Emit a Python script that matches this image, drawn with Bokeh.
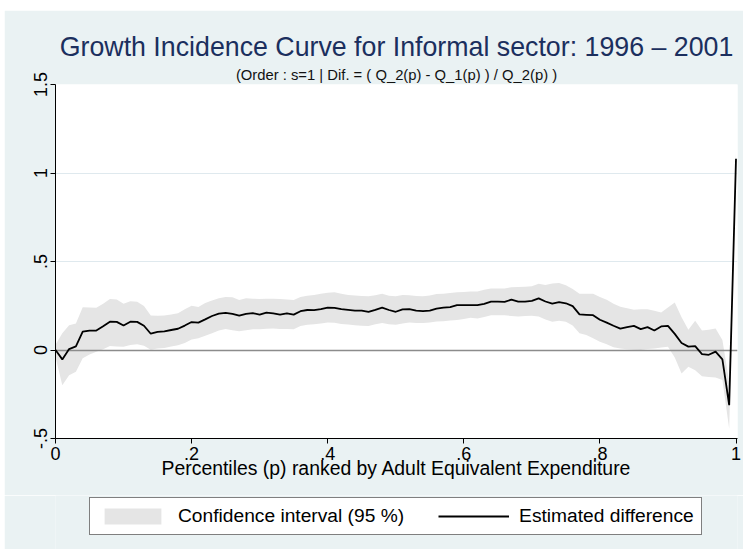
from bokeh.plotting import figure
from bokeh.layouts import column
from bokeh.models import (Range1d, FixedTicker, Title, Legend, LegendItem)
from bokeh.embed import file_html
from bokeh.resources import INLINE

# Percentiles p = 0, .01, ..., 1
pct = [round(i * 0.01, 2) for i in range(101)]

# Estimated difference (Q_2(p) - Q_1(p)) / Q_2(p)
est = [0.000, -0.053, 0.005, 0.020, 0.104, 0.110, 0.110, 0.134, 0.160, 0.159,
       0.138, 0.160, 0.159, 0.137, 0.092, 0.102, 0.105, 0.113, 0.120, 0.138,
       0.158, 0.155, 0.173, 0.192, 0.205, 0.210, 0.204, 0.194, 0.204, 0.208,
       0.200, 0.211, 0.207, 0.200, 0.207, 0.200, 0.219, 0.226, 0.225, 0.231,
       0.239, 0.238, 0.231, 0.227, 0.223, 0.223, 0.216, 0.227, 0.239, 0.226,
       0.216, 0.230, 0.231, 0.223, 0.220, 0.223, 0.234, 0.239, 0.242, 0.253,
       0.254, 0.254, 0.254, 0.261, 0.273, 0.273, 0.272, 0.284, 0.273, 0.273,
       0.278, 0.292, 0.274, 0.262, 0.270, 0.264, 0.248, 0.201, 0.199, 0.197,
       0.171, 0.155, 0.137, 0.121, 0.129, 0.136, 0.118, 0.129, 0.110, 0.133,
       0.136, 0.091, 0.040, 0.019, 0.022, -0.023, -0.027, -0.009, -0.053, -0.312,
       1.080]

# 95 % confidence bounds
ci_upper = [0.030, 0.095, 0.140, 0.150, 0.242, 0.240, 0.238, 0.262, 0.288, 0.286,
            0.262, 0.275, 0.273, 0.248, 0.195, 0.193, 0.195, 0.200, 0.208, 0.230,
            0.250, 0.243, 0.265, 0.280, 0.293, 0.300, 0.298, 0.282, 0.292, 0.290,
            0.288, 0.290, 0.290, 0.288, 0.286, 0.282, 0.299, 0.306, 0.311, 0.318,
            0.324, 0.326, 0.318, 0.311, 0.308, 0.305, 0.303, 0.310, 0.318, 0.306,
            0.304, 0.311, 0.309, 0.305, 0.303, 0.308, 0.317, 0.318, 0.322, 0.326,
            0.328, 0.330, 0.330, 0.340, 0.348, 0.348, 0.348, 0.355, 0.356, 0.358,
            0.360, 0.375, 0.367, 0.376, 0.379, 0.366, 0.345, 0.318, 0.318, 0.318,
            0.300, 0.284, 0.262, 0.244, 0.236, 0.227, 0.230, 0.230, 0.222, 0.212,
            0.240, 0.268, 0.185, 0.114, 0.165, 0.110, 0.115, 0.121, 0.057, -0.180,
            1.125]

ci_lower = [-0.040, -0.199, -0.142, -0.123, -0.047, -0.025, -0.010, 0.004, 0.022, 0.020,
            0.019, 0.028, 0.032, 0.024, 0.001, 0.008, 0.011, 0.020, 0.027, 0.040,
            0.060, 0.066, 0.080, 0.095, 0.110, 0.118, 0.112, 0.106, 0.112, 0.117,
            0.117, 0.120, 0.121, 0.118, 0.118, 0.117, 0.136, 0.142, 0.146, 0.150,
            0.155, 0.154, 0.147, 0.144, 0.140, 0.137, 0.136, 0.145, 0.152, 0.146,
            0.142, 0.150, 0.155, 0.153, 0.152, 0.155, 0.161, 0.163, 0.167, 0.170,
            0.175, 0.182, 0.178, 0.187, 0.197, 0.197, 0.196, 0.192, 0.189, 0.192,
            0.193, 0.189, 0.172, 0.160, 0.165, 0.160, 0.138, 0.095, 0.085, 0.066,
            0.047, 0.032, 0.015, 0.008, 0.004, 0.001, 0.000, 0.005, 0.008, 0.014,
            0.019, -0.042, -0.133, -0.095, -0.114, -0.148, -0.152, -0.155, -0.170, -0.445,
            1.030]

x_ticks = [0, 0.2, 0.4, 0.6, 0.8, 1]
x_tick_labels = ["0", ".2", ".4", ".6", ".8", "1"]
y_ticks = [-0.5, 0, 0.5, 1, 1.5]
y_tick_labels = ["-.5", "0", ".5", "1", "1.5"]

FONT = "Liberation Sans"
BG = "#eaf2f3"
BAND = "#e5e5e5"

p = figure(width=739, height=485, margin=(10, 0, 0, 4),
           x_range=Range1d(0, 1.0022), y_range=Range1d(-0.5, 1.5),
           output_backend="svg", toolbar_location=None,
           min_border_left=51, min_border_right=6,
           min_border_top=74, min_border_bottom=57,
           background_fill_color="white", border_fill_color=BG,
           outline_line_color=None)

# main title (outermost), subtitle right above the frame
p.title.text = "Growth Incidence Curve for Informal sector: 1996 \u2013 2001"
p.title.text_font = FONT
p.title.text_font_size = "26.75px"
p.title.text_font_style = "normal"
p.title.text_color = "#1b2f5e"
p.title.align = "center"
p.title.offset = 7
p.title.standoff = 4

p.add_layout(Title(text="(Order : s=1 | Dif. = ( Q_2(p) - Q_1(p) ) / Q_2(p) )",
                   text_font=FONT, text_font_size="14.8px", text_font_style="normal",
                   text_color="#111111", align="center", offset=2, standoff=3),
             "above")

# axes
for ax in (p.xaxis[0], p.yaxis[0]):
    ax.axis_line_color = "black"
    ax.axis_line_width = 1
    ax.major_tick_line_color = "black"
    ax.major_tick_out = 5
    ax.major_tick_in = 0
    ax.minor_tick_line_color = None
    ax.major_label_text_font = FONT
    ax.major_label_text_font_size = "18px"
    ax.major_label_text_color = "black"

p.xaxis.ticker = FixedTicker(ticks=x_ticks)
p.xaxis.major_label_overrides = dict(zip(x_ticks, x_tick_labels))
p.xaxis.major_label_standoff = 3
p.xaxis.axis_label = "Percentiles (p) ranked by Adult Equivalent Expenditure"
p.xaxis.axis_label_text_font = FONT
p.xaxis.axis_label_text_font_size = "19.4px"
p.xaxis.axis_label_text_font_style = "normal"
p.xaxis.axis_label_text_color = "black"
p.xaxis.axis_label_standoff = -6

p.yaxis.ticker = FixedTicker(ticks=y_ticks)
p.yaxis.major_label_overrides = dict(zip(y_ticks, y_tick_labels))
p.yaxis.major_label_orientation = "vertical"
p.yaxis.major_label_standoff = 4

p.xgrid.grid_line_color = None
p.ygrid.grid_line_color = "#dfe9ee"
p.ygrid.grid_line_width = 1

# confidence band, zero reference and estimate
band = p.varea(x=pct, y1=ci_lower, y2=ci_upper, fill_color=BAND)
p.hspan(y=[0], line_color="#8c8c8c", line_width=1.6)
curve = p.line(x=pct, y=est, line_color="black", line_width=1.8)

# legend strip below the chart; its own view range lies above the data,
# so the key renderers only supply the legend swatches
leg = figure(width=739, height=54, margin=(0, 0, 0, 4),
             x_range=Range1d(0, 1), y_range=Range1d(5, 6),
             x_axis_type=None, y_axis_type=None,
             output_backend="svg", toolbar_location=None,
             min_border_left=51, min_border_right=6,
             min_border_top=0, min_border_bottom=0,
             background_fill_color=BG, border_fill_color=BG,
             outline_line_color=None)
leg.grid.visible = False
key_band = leg.varea(x=pct, y1=ci_lower, y2=ci_upper, fill_color=BAND)
key_line = leg.line(x=pct, y=est, line_color="black", line_width=1.8)

legend = Legend(items=[LegendItem(label="Confidence interval (95 %)", renderers=[key_band]),
                       LegendItem(label="Estimated difference", renderers=[key_line])],
                orientation="horizontal", location=(34, 14),
                border_line_color="black", border_line_width=1,
                background_fill_color="white", background_fill_alpha=1,
                label_text_font=FONT, label_text_font_size="19.2px",
                label_text_color="black",
                glyph_width=71, glyph_height=20, label_standoff=10,
                padding=7, spacing=34, margin=0)
leg.add_layout(legend, "center")

layout = column(p, leg, spacing=0)
open("out.html", "w").write(file_html(layout, INLINE))
